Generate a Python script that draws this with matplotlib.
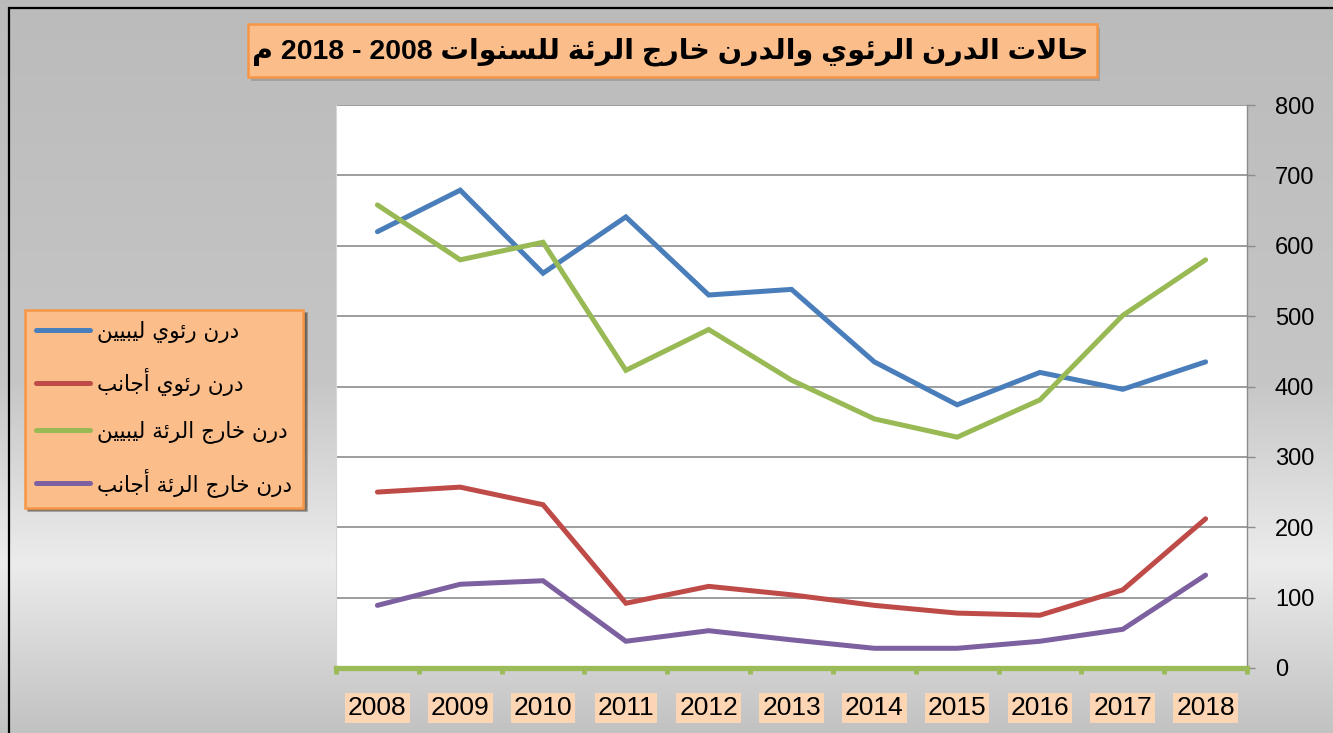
import numpy as np
import matplotlib
matplotlib.use("Agg")
import matplotlib.pyplot as plt
from matplotlib.patches import Rectangle

# ---------------- data ----------------
years = ["2008", "2009", "2010", "2011", "2012", "2013", "2014", "2015", "2016", "2017", "2018"]
pulm_libyan = [620, 679, 561, 641, 530, 538, 435, 374, 420, 396, 435]
pulm_foreign = [250, 257, 232, 92, 116, 104, 89, 78, 75, 111, 212]
extra_libyan = [658, 580, 605, 423, 481, 409, 354, 328, 381, 501, 580]
extra_foreign = [89, 119, 124, 38, 53, 40, 28, 28, 38, 55, 132]
series_labels = ["درن رئوي ليبيين", "درن رئوي أجانب", "درن خارج الرئة ليبيين", "درن خارج الرئة أجانب"]
title_text = "حالات الدرن الرئوي والدرن خارج الرئة للسنوات 2008 - 2018 م"
y_ticks = [0, 100, 200, 300, 400, 500, 600, 700, 800]

colors = ["#4a7ebb", "#be4b48", "#98b954", "#7d60a0"]

# ------------- minimal Arabic shaping (presentation forms, visual order) -------------
FORMS = {
    '\u0627': ('\uFE8D', '\uFE8E', None, None),
    '\u0623': ('\uFE83', '\uFE84', None, None),
    '\u0628': ('\uFE8F', '\uFE90', '\uFE91', '\uFE92'),
    '\u0629': ('\uFE93', '\uFE94', None, None),
    '\u062A': ('\uFE95', '\uFE96', '\uFE97', '\uFE98'),
    '\u062C': ('\uFE9D', '\uFE9E', '\uFE9F', '\uFEA0'),
    '\u062D': ('\uFEA1', '\uFEA2', '\uFEA3', '\uFEA4'),
    '\u062E': ('\uFEA5', '\uFEA6', '\uFEA7', '\uFEA8'),
    '\u062F': ('\uFEA9', '\uFEAA', None, None),
    '\u0631': ('\uFEAD', '\uFEAE', None, None),
    '\u0633': ('\uFEB1', '\uFEB2', '\uFEB3', '\uFEB4'),
    '\u0644': ('\uFEDD', '\uFEDE', '\uFEDF', '\uFEE0'),
    '\u0645': ('\uFEE1', '\uFEE2', '\uFEE3', '\uFEE4'),
    '\u0646': ('\uFEE5', '\uFEE6', '\uFEE7', '\uFEE8'),
    '\u0648': ('\uFEED', '\uFEEE', None, None),
    '\u064A': ('\uFEF1', '\uFEF2', '\uFEF3', '\uFEF4'),
    '\u0626': ('\uFE89', '\uFE8A', '\uFE8B', '\uFE8C'),
}
LAM_ALEF = {'\u0627': ('\uFEFB', '\uFEFC'), '\u0623': ('\uFEF7', '\uFEF8')}


def _dual(c):
    return c in FORMS and FORMS[c][2] is not None


def shape_word(w):
    out = []
    i, n = 0, len(w)
    while i < n:
        c = w[i]
        if c not in FORMS:
            out.append(c)
            i += 1
            continue
        prev = w[i - 1] if i > 0 else None
        jp = prev is not None and _dual(prev)
        if c == '\u0644' and i + 1 < n and w[i + 1] in LAM_ALEF:
            iso, fin = LAM_ALEF[w[i + 1]]
            out.append(fin if jp else iso)
            i += 2
            continue
        nxt = w[i + 1] if i + 1 < n else None
        jn = _dual(c) and nxt is not None and nxt in FORMS
        f = FORMS[c]
        if jp and jn:
            g = f[3]
        elif jp:
            g = f[1]
        elif jn:
            g = f[2]
        else:
            g = f[0]
        out.append(g)
        i += 1
    return ''.join(out)


def rtl(text):
    vis = []
    for t in reversed(text.split(' ')):
        if any(ch in FORMS for ch in t):
            vis.append(shape_word(t)[::-1])
        else:
            vis.append(t)
    return ' '.join(vis)


# ---------------- figure ----------------
W, H = 1333, 733
fig = plt.figure(figsize=(W / 100, H / 100), dpi=100)


def fx(px):
    return px / W


def fy(py):
    return 1 - py / H


# background gradient
bg = fig.add_axes([0, 0, 1, 1], zorder=-10)
yy = np.linspace(0, H, 400)
stops_y = [0, 380, 563, 733]
stops_v = [0.733, 0.775, 0.925, 0.76]
vals = np.interp(yy, stops_y, stops_v)
img = np.repeat(vals[:, None], 2, axis=1)
bg.imshow(np.dstack([img, img, img]), aspect='auto', extent=[0, 1, 0, 1], origin='upper')
bg.set_xlim(0, 1)
bg.set_ylim(0, 1)
bg.axis('off')

# outer black frame
fig.patches.append(Rectangle((fx(9), fy(740)), fx(1340 - 9), fy(8) - fy(740), transform=fig.transFigure,
                             fill=False, edgecolor='black', linewidth=1.6, zorder=-5))

# main axes
left, right, top, bottom = 336, 1247, 105, 668
ax = fig.add_axes([fx(left), fy(bottom), fx(right - left), fy(top) - fy(bottom)])
ax.set_facecolor('white')
x = np.arange(len(years))
all_series = [pulm_libyan, pulm_foreign, extra_libyan, extra_foreign]
handles = []
for s, c, lab in zip(all_series, colors, series_labels):
    ln, = ax.plot(x, s, color=c, linewidth=3.6, solid_joinstyle='miter', solid_capstyle='round',
                  label=rtl(lab), zorder=3)
    handles.append(ln)

ax.set_xlim(-0.5, len(years) - 0.5)
ax.set_ylim(0, 800)
ax.set_yticks(y_ticks)
ax.yaxis.tick_right()
ax.grid(axis='y', color='#8c8c8c', linewidth=1.2, zorder=1)
ax.set_axisbelow(True)
ax.spines['top'].set_visible(False)
ax.spines['left'].set_color('#d6d6d6')
ax.spines['left'].set_linewidth(0.8)
ax.spines['right'].set_color('#8c8c8c')
ax.spines['right'].set_linewidth(1.0)
ax.spines['bottom'].set_color('#9bbb59')
ax.spines['bottom'].set_linewidth(3.8)
ax.spines['bottom'].set_zorder(4)

ax.tick_params(axis='y', which='major', right=True, left=False, length=6, width=1, color='#8c8c8c',
               pad=14, labelsize=17, labelcolor='black')
for lab in ax.get_yticklabels():
    lab.set_fontfamily(['Liberation Sans', 'DejaVu Sans'])

ax.set_xticks(x)
ax.set_xticklabels(years)
ax.set_xticks(np.arange(-0.5, len(years), 1.0), minor=True)
ax.tick_params(axis='x', which='major', length=0, pad=20, labelsize=19)
ax.tick_params(axis='x', which='minor', length=4, width=3.5, color='#9bbb59', direction='out')
for lab in ax.get_xticklabels():
    lab.set_fontfamily(['Liberation Sans', 'DejaVu Sans'])
    lab.set_bbox(dict(facecolor='#fcd5b4', edgecolor='none', pad=2.0))

# title box with shadow
tx0, ty0, tx1, ty1 = 248, 24, 1097, 77
fig.patches.append(Rectangle((fx(tx0 + 3), fy(ty1 + 4)), fx(tx1 - tx0), fy(ty0) - fy(ty1),
                             transform=fig.transFigure, facecolor='#7f7f7f', alpha=0.45,
                             edgecolor='none', zorder=1))
fig.patches.append(Rectangle((fx(tx0), fy(ty1)), fx(tx1 - tx0), fy(ty0) - fy(ty1),
                             transform=fig.transFigure, facecolor='#fbbd89', edgecolor='#f79646',
                             linewidth=1.8, zorder=2))
fig.text(fx((tx0 + tx1) / 2 - 2), fy((ty0 + ty1) / 2 + 1), rtl(title_text), ha='center', va='center',
         fontsize=20.5, fontweight='bold', family=['Liberation Sans', 'DejaVu Sans'], color='black',
         zorder=3)

# legend
leg = fig.legend(handles=handles, labels=[rtl(l) for l in series_labels],
                 loc='upper left', bbox_to_anchor=(fx(25), fy(310)), bbox_transform=fig.transFigure,
                 prop={'family': ['DejaVu Sans'], 'size': 15.5}, frameon=True, fancybox=False,
                 shadow=True, facecolor='#fbbd89', edgecolor='#f79646', framealpha=1,
                 handlelength=2.5, handletextpad=0.35, labelspacing=1.15, borderpad=0.5,
                 borderaxespad=0)
leg.get_frame().set_linewidth(1.8)

fig.savefig('out.png', dpi=100)
